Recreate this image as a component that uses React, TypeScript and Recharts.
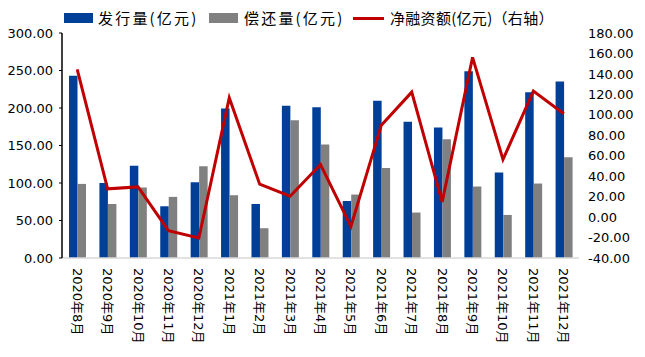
import { ComposedChart, Bar, Line, XAxis, YAxis } from 'recharts';

const months = [
  '2020年8月', '2020年9月', '2020年10月', '2020年11月', '2020年12月',
  '2021年1月', '2021年2月', '2021年3月', '2021年4月', '2021年5月', '2021年6月',
  '2021年7月', '2021年8月', '2021年9月', '2021年10月', '2021年11月', '2021年12月',
];
const issuance = [243, 100, 123, 69, 101, 199.5, 72, 203, 201, 76, 209.6, 181.6, 174, 249, 114, 221, 235.5];
const repayment = [98.8, 72, 94, 81.5, 122.4, 83.7, 39.7, 183.8, 151.4, 84.6, 120, 60.6, 158.5, 95.3, 57.4, 99.3, 134.4];
const netFinancing = [144.4, 27.6, 29.5, -13.2, -20.4, 116.6, 32.2, 20.4, 51.4, -9, 89.9, 122.2, 14.8, 156.2, 56.3, 123.2, 101];

const leftTicks = [0, 50, 100, 150, 200, 250, 300];
const rightTicks = [-40, -20, 0, 20, 40, 60, 80, 100, 120, 140, 160, 180];

const BLUE = '#003f98';
const GRAY = '#808080';
const RED = '#c00000';
const NUM_FONT = '"DejaVu Sans", "Noto Sans CJK SC", sans-serif';
const CJK_FONT = '"Noto Sans CJK SC", sans-serif';

const data = months.map((m, i) => ({
  month: m,
  issue: issuance[i],
  repay: repayment[i],
  net: netFinancing[i],
}));

const MonthTick = ({ x, y, payload }: { x?: number; y?: number; payload?: { value: string } }) => {
  const tx = x ?? 0;
  const ty = (y ?? 0) + 10;
  return (
    <text
      x={tx}
      y={ty}
      transform={`rotate(90, ${tx}, ${ty})`}
      textAnchor="start"
      dominantBaseline="central"
      fontSize={13}
      fontFamily={NUM_FONT}
      fill="#000"
    >
      {payload?.value}
    </text>
  );
};

// legend entries with their left edges (swatch, text)
const legendItems = [
  { name: '发行量(亿元)', color: BLUE, kind: 'rect', x: 64, tx: 98, spacing: 2.2 },
  { name: '偿还量(亿元)', color: GRAY, kind: 'rect', x: 209, tx: 244, spacing: 2.2 },
  { name: '净融资额(亿元)（右轴）', color: RED, kind: 'line', x: 353, tx: 390, spacing: 0.3 },
];

export default function App() {
  const fmt = (v: number) => v.toFixed(2);
  return (
    <div style={{ position: 'absolute', left: 0, top: 0, width: 645, height: 357, background: '#fff' }}>
      <ComposedChart
        width={645}
        height={357}
        data={data}
        margin={{ top: 33, right: 0, bottom: 0, left: 0 }}
        barGap={0}
      >
        <XAxis
          dataKey="month"
          height={99}
          interval={0}
          tickLine={false}
          tickSize={0}
          tickMargin={0}
          axisLine={{ stroke: '#d9d9d9', strokeWidth: 1.5 }}
          tick={<MonthTick />}
        />
        <YAxis
          yAxisId="left"
          width={62}
          domain={[0, 300]}
          ticks={leftTicks}
          interval={0}
          tickFormatter={fmt}
          axisLine={{ stroke: '#000', strokeWidth: 1.5 }}
          tickLine={{ stroke: '#000' }}
          tickSize={3}
          tickMargin={6}
          tick={{ fontSize: 13, fontFamily: NUM_FONT, fill: '#000' }}
        />
        <YAxis
          yAxisId="right"
          orientation="right"
          width={66}
          domain={[-40, 180]}
          ticks={rightTicks}
          interval={0}
          tickFormatter={fmt}
          axisLine={false}
          tickLine={false}
          tickSize={0}
          tickMargin={9}
          tick={{ fontSize: 13, fontFamily: NUM_FONT, fill: '#000', textAnchor: 'start' }}
        />
        <Bar yAxisId="left" dataKey="issue" fill={BLUE} barSize={8.5} isAnimationActive={false} />
        <Bar yAxisId="left" dataKey="repay" fill={GRAY} barSize={8.5} isAnimationActive={false} />
        <Line
          yAxisId="right"
          dataKey="net"
          type="linear"
          stroke={RED}
          strokeWidth={3}
          dot={false}
          activeDot={false}
          isAnimationActive={false}
        />
      </ComposedChart>
      {/* Legend */}
      {legendItems.map((item) => (
        <div key={item.name}>
          {item.kind === 'rect' ? (
            <div style={{ position: 'absolute', left: item.x, top: 13, width: 29, height: 10, background: item.color }} />
          ) : (
            <div style={{ position: 'absolute', left: item.x, top: 17, width: 31, height: 3, background: item.color }} />
          )}
          <span
            style={{
              position: 'absolute',
              left: item.tx,
              top: 7,
              lineHeight: '22px',
              fontFamily: CJK_FONT,
              fontSize: 15,
              letterSpacing: item.spacing,
              color: '#000',
              whiteSpace: 'nowrap',
            }}
          >
            {item.name}
          </span>
        </div>
      ))}
    </div>
  );
}
